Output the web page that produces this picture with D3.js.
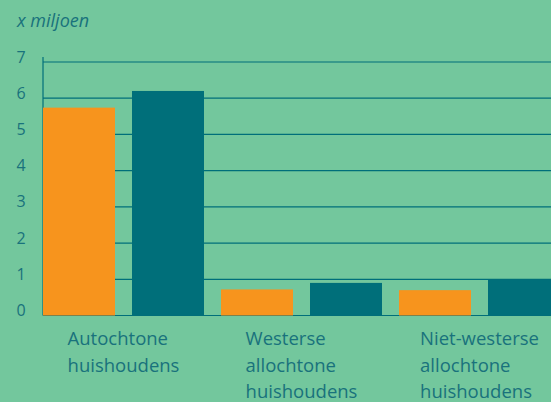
<!DOCTYPE html>
<html>
<head>
<meta charset="utf-8">
<script src="https://cdn.jsdelivr.net/npm/d3@7"></script>
<style>
  html, body { margin: 0; padding: 0; background: #73c79d; overflow: hidden; }
  svg { display: block; }
  text { font-family: "Open Sans", sans-serif; fill: #19727c; }
</style>
</head>
<body>
<svg id="chart"></svg>
<script>
// data
const categories = [
  ['Autochtone', 'huishoudens'],
  ['Westerse', 'allochtone', 'huishoudens'],
  ['Niet-westerse', 'allochtone', 'huishoudens']
];
const seriesNames = ['orange', 'teal'];
const orangeValues = [5.74, 0.72, 0.7];
const tealValues = [6.2, 0.9, 1.0];
const yTicks = [0, 1, 2, 3, 4, 5, 6, 7];
const unitLabel = 'x miljoen';

const width = 551;
const height = 402;
const margin = { left: 43, top: 62, bottom: 315.5 };

const svg = d3.select('#chart')
  .attr('width', width)
  .attr('height', height);

const teal = '#006f7a';
const orange = '#f7941d';

const rows = categories.map((c, i) => ({
  key: c.join(' '),
  lines: c,
  values: [orangeValues[i], tealValues[i]]
}));

// group step 178, bar 72, gaps 17 (last bar runs off the right edge)
const x0 = d3.scaleBand()
  .domain(rows.map(d => d.key))
  .range([margin.left, margin.left + 3 * 178 - 17])
  .paddingInner(17 / 178)
  .paddingOuter(0);

const x1 = d3.scaleBand()
  .domain(seriesNames)
  .range([0, x0.bandwidth()])
  .paddingInner(17 / 89)
  .paddingOuter(0);

const y = d3.scaleLinear()
  .domain([0, 7])
  .range([margin.bottom, margin.top]);

const color = d3.scaleOrdinal().domain(seriesNames).range([orange, teal]);

// gridlines
svg.append('g')
  .selectAll('line')
  .data(yTicks)
  .enter()
  .append('line')
  .attr('x1', margin.left)
  .attr('x2', width)
  .attr('y1', d => y(d))
  .attr('y2', d => y(d))
  .attr('stroke', teal)
  .attr('stroke-width', 1.2);

// y axis line
svg.append('line')
  .attr('x1', margin.left)
  .attr('x2', margin.left)
  .attr('y1', y(7) - 5)
  .attr('y2', y(0))
  .attr('stroke', teal)
  .attr('stroke-width', 1.2);

// tick labels
svg.append('g')
  .selectAll('text')
  .data(yTicks)
  .enter()
  .append('text')
  .attr('x', 21)
  .attr('y', d => y(d) - 5)
  .attr('dy', '0.35em')
  .attr('text-anchor', 'middle')
  .style('font-size', '16px')
  .text(d => d);

svg.append('text')
  .attr('x', 17)
  .attr('y', 27)
  .style('font-size', '18px')
  .style('font-style', 'italic')
  .text(unitLabel);

// bars
svg.append('g')
  .selectAll('g')
  .data(rows)
  .enter()
  .append('g')
  .attr('transform', d => `translate(${x0(d.key)},0)`)
  .selectAll('rect')
  .data(d => d.values.map((v, i) => ({ name: seriesNames[i], value: v })))
  .enter()
  .append('rect')
  .attr('x', d => x1(d.name))
  .attr('width', x1.bandwidth())
  .attr('y', d => y(d.value))
  .attr('height', d => y(0) - y(d.value))
  .attr('fill', d => color(d.name));

// category labels, lines left aligned, block centred on group
const labels = svg.append('g')
  .selectAll('text')
  .data(rows)
  .enter()
  .append('text')
  .style('font-size', '18.5px');

labels.selectAll('tspan')
  .data(d => d.lines)
  .enter()
  .append('tspan')
  .attr('y', (d, i) => 345 + i * 26.5)
  .text(d => d);

labels.each(function(d) {
  const spans = d3.select(this).selectAll('tspan');
  let maxW = 0;
  spans.each(function() { maxW = Math.max(maxW, this.getComputedTextLength()); });
  const cx = x0(d.key) + x0.bandwidth() / 2;
  spans.attr('x', cx - maxW / 2);
});
</script>
</body>
</html>
